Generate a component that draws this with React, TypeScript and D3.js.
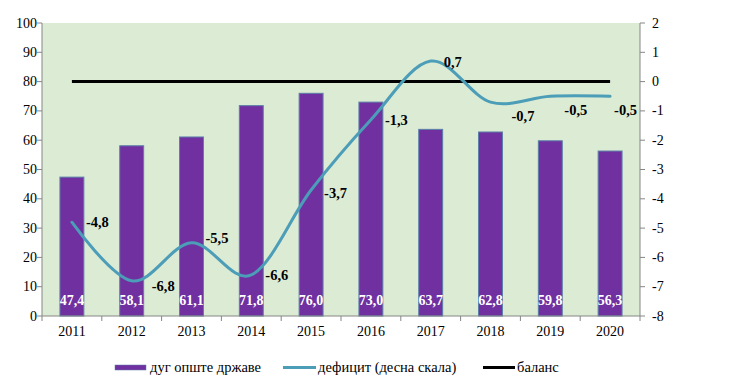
import React from "react";
import * as d3 from "d3";

const years = ["2011", "2012", "2013", "2014", "2015", "2016", "2017", "2018", "2019", "2020"];
const debt = [47.4, 58.1, 61.1, 71.8, 76.0, 73.0, 63.7, 62.8, 59.8, 56.3];
const deficit = [-4.8, -6.8, -5.5, -6.6, -3.7, -1.3, 0.7, -0.7, -0.5, -0.5];
const balance = [0, 0, 0, 0, 0, 0, 0, 0, 0, 0];
const leftTicks = [0, 10, 20, 30, 40, 50, 60, 70, 80, 90, 100];
const rightTicks = [2, 1, 0, -1, -2, -3, -4, -5, -6, -7, -8];
const legendLabels = ["дуг опште државе", "дефицит (десна скала)", "баланс"];

// label placement offsets (styling)
const defLabelOffsets: [number, number][] = [
  [14, 5], [20, 10], [14, 0], [14, 5], [13, 8], [14, 5], [13, 6], [21, 19], [14, 19], [4, 19],
];

const fmt = (v: number) => v.toFixed(1).replace(".", ",");

export default function App() {
  const W = 732, H = 386;
  const L = 42, R = 640, T = 23, B = 316;
  const x = d3.scaleBand<string>().domain(years).range([L, R]).paddingInner(0).paddingOuter(0);
  const yL = d3.scaleLinear().domain([0, 100]).range([B, T]);
  const yR = d3.scaleLinear().domain([-8, 2]).range([B, T]);
  const bw = x.bandwidth() * 0.4;
  const cx = (y: string) => (x(y) as number) + x.bandwidth() / 2;

  const line = d3
    .line<number>()
    .x((_, i) => cx(years[i]))
    .y((d) => yR(d))
    .curve(d3.curveCatmullRom.alpha(0));
  const balLine = d3
    .line<number>()
    .x((_, i) => cx(years[i]))
    .y((d) => yR(d));

  const axisColor = "#868686";
  const ts: React.CSSProperties = { fontFamily: "Liberation Serif" };
  const lineColor = "#4b9db8";

  return (
    <div style={{ position: "fixed", left: 0, top: 0 }}>
      <svg width={W} height={H} style={{ display: "block", background: "#fff", fontFamily: "Liberation Serif" }}>
        <rect x={L} y={T} width={R - L} height={B - T} fill="#dcebd4" />
        {debt.map((v, i) => (
          <rect
            key={years[i]}
            x={cx(years[i]) - bw / 2}
            y={yL(v)}
            width={bw}
            height={B - yL(v)}
            fill="#7030a0"
            stroke="#5b7fa8"
            strokeWidth={1}
          />
        ))}
        {debt.map((v, i) => (
          <text
            key={"bl" + i}
            x={cx(years[i])}
            y={305}
            textAnchor="middle"
            fill="#fff"
            fontWeight="bold"
            fontSize={14}
            style={ts}
          >
            {fmt(v)}
          </text>
        ))}
        <path d={balLine(balance) || ""} fill="none" stroke="#000" strokeWidth={3} />
        <path d={line(deficit) || ""} fill="none" stroke={lineColor} strokeWidth={3} strokeLinecap="round" />
        {deficit.map((v, i) => (
          <text
            key={"dl" + i}
            x={cx(years[i]) + defLabelOffsets[i][0]}
            y={yR(v) + defLabelOffsets[i][1]}
            fill="#000"
            fontWeight="bold"
            fontSize={14.5}
            style={ts}
          >
            {fmt(v)}
          </text>
        ))}
        {/* left axis */}
        <line x1={L} x2={L} y1={T} y2={B} stroke={axisColor} />
        {leftTicks.map((t) => (
          <g key={"lt" + t}>
            <line x1={L - 5} x2={L} y1={yL(t)} y2={yL(t)} stroke={axisColor} />
            <text x={L - 5} y={yL(t) + 4.5} textAnchor="end" fontSize={14} fill="#000" style={ts}>
              {t}
            </text>
          </g>
        ))}
        {/* right axis */}
        <line x1={R} x2={R} y1={T} y2={B} stroke={axisColor} />
        {rightTicks.map((t) => (
          <g key={"rt" + t}>
            <line x1={R} x2={R + 5} y1={yR(t)} y2={yR(t)} stroke={axisColor} />
            <text x={652} y={yR(t) + 4.5} textAnchor="start" fontSize={14} fill="#000" style={ts}>
              {t}
            </text>
          </g>
        ))}
        {/* x axis */}
        <line x1={L} x2={R} y1={B} y2={B} stroke={axisColor} />
        {years.map((y) => (
          <line key={"xt" + y} x1={x(y) as number} x2={x(y) as number} y1={B} y2={B + 5} stroke={axisColor} />
        ))}
        <line x1={R} x2={R} y1={B} y2={B + 5} stroke={axisColor} />
        {years.map((y) => (
          <text key={"xl" + y} x={cx(y)} y={336} textAnchor="middle" fontSize={14} fill="#000" style={ts}>
            {y}
          </text>
        ))}
        {/* legend */}
        <rect x={115} y={365} width={31} height={5} fill="#7030a0" stroke="#5b7fa8" strokeWidth={0.5} />
        <text x={150} y={372} fontSize={14.5} fill="#000" style={ts}>{legendLabels[0]}</text>
        <line x1={283} x2={316} y1={367.5} y2={367.5} stroke={lineColor} strokeWidth={3} />
        <text x={318} y={372} fontSize={14.5} fill="#000" style={ts}>{legendLabels[1]}</text>
        <line x1={483} x2={515} y1={367.5} y2={367.5} stroke="#000" strokeWidth={3} />
        <text x={517} y={372} fontSize={14.5} fill="#000" style={ts}>{legendLabels[2]}</text>
      </svg>
    </div>
  );
}
